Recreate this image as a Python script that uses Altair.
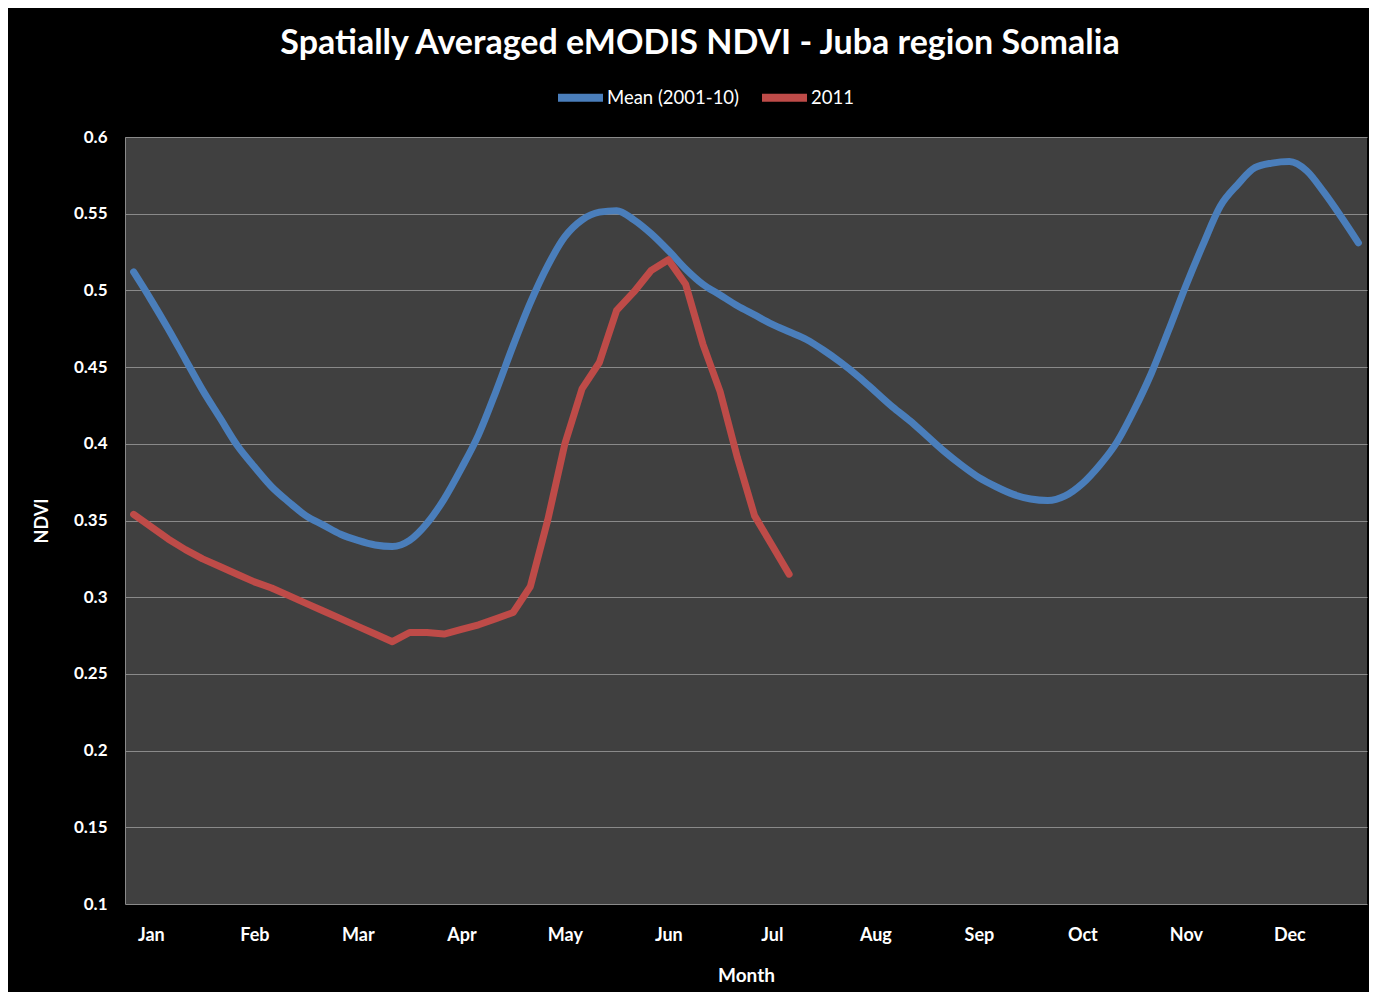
import altair as alt
import pandas as pd

# ---- data ----
months = ["Jan", "Feb", "Mar", "Apr", "May", "Jun",
          "Jul", "Aug", "Sep", "Oct", "Nov", "Dec"]
month_label_pos = [1, 7, 13, 19, 25, 31, 37, 43, 49, 55, 61, 67]  # pentad index where each month label sits
y_ticks = [0.1, 0.15, 0.2, 0.25, 0.3, 0.35, 0.4, 0.45, 0.5, 0.55, 0.6]

series_names = ["Mean (2001-10)", "2011"]
series_colors = ["#4a7ebb", "#be4b48"]

mean_ndvi = [
    0.512, 0.494, 0.475, 0.455, 0.435, 0.417, 0.399, 0.385, 0.372, 0.362,
    0.353, 0.347, 0.341, 0.337, 0.334, 0.333, 0.337, 0.348, 0.364, 0.384,
    0.406, 0.434, 0.464, 0.492, 0.516, 0.535, 0.546, 0.551, 0.552, 0.546,
    0.537, 0.526, 0.514, 0.504, 0.497, 0.490, 0.484, 0.478, 0.473, 0.468,
    0.461, 0.453, 0.444, 0.434, 0.424, 0.415, 0.405, 0.395, 0.386, 0.378,
    0.372, 0.367, 0.364, 0.363, 0.366, 0.374, 0.386, 0.401, 0.422, 0.446,
    0.474, 0.503, 0.530, 0.555, 0.569, 0.580, 0.583, 0.584, 0.578, 0.564,
    0.548, 0.531,
]
ndvi_2011 = [
    0.354, 0.346, 0.338, 0.331, 0.325, 0.320, 0.315, 0.310, 0.306, 0.301,
    0.296, 0.291, 0.286, 0.281, 0.276, 0.271, 0.277, 0.277, 0.276, 0.279,
    0.282, 0.286, 0.290, 0.307, 0.350, 0.400, 0.436, 0.453, 0.487, 0.499,
    0.513, 0.520, 0.504, 0.465, 0.434, 0.391, 0.353, 0.334, 0.315,
]

rows = []
for i, v in enumerate(mean_ndvi):
    rows.append({"idx": i, "ndvi": v, "series": series_names[0]})
for i, v in enumerate(ndvi_2011):
    rows.append({"idx": i, "ndvi": v, "series": series_names[1]})
df = pd.DataFrame(rows)

FONT = "Lato"
month_array = "[" + ",".join("'%s'" % m for m in months) + "]"
label_expr = month_array + "[round((datum.value - 1) / 6)]"

x = alt.X(
    "idx:Q",
    scale=alt.Scale(domain=[-0.5, len(mean_ndvi) - 0.5], nice=False, zero=False),
    axis=alt.Axis(
        values=month_label_pos, labelExpr=label_expr, grid=False, ticks=False,
        domain=False, title="Month", labelColor="white", labelFont=FONT,
        labelFontSize=18, labelFontWeight="bold", labelPadding=22,
        titleColor="white", titleFont=FONT, titleFontSize=19,
        titleFontWeight="bold", titlePadding=22,
    ),
)
y = alt.Y(
    "ndvi:Q",
    scale=alt.Scale(domain=[y_ticks[0], y_ticks[-1]], nice=False, zero=False),
    axis=alt.Axis(
        values=y_ticks, format=".2~f", grid=True, gridColor="#8a8a8a",
        gridWidth=1, ticks=False, domain=True, domainColor="#8a8a8a",
        title="NDVI", labelColor="white", labelFont=FONT, labelFontSize=17,
        labelFontWeight="bold", labelPadding=18, titleColor="white",
        titleFont=FONT, titleFontSize=18, titleFontWeight="bold",
        titlePadding=22,
    ),
)
color = alt.Color(
    "series:N",
    scale=alt.Scale(domain=series_names, range=series_colors),
    legend=alt.Legend(
        orient="none", legendX=429, legendY=-66, direction="horizontal",
        title=None, symbolType="stroke", symbolSize=2025,
        symbolStrokeWidth=8, labelColor="white", labelFont=FONT,
        labelFontSize=18.5, labelOffset=0, columnPadding=6,
    ),
)

base = alt.Chart(df).encode(x=x, y=y, color=color)
mean_line = base.transform_filter(alt.datum.series == series_names[0]).mark_line(
    interpolate="monotone", strokeWidth=7, strokeCap="round", strokeJoin="round"
)
line_2011 = base.transform_filter(alt.datum.series == series_names[1]).mark_line(
    strokeWidth=7, strokeCap="round", strokeJoin="round"
)

chart = (
    alt.layer(mean_line, line_2011)
    .properties(
        width=1242,
        height=767,
        autosize=alt.AutoSizeParams(type="none"),
        padding={"left": 117, "top": 129, "right": 2, "bottom": 88},
        background="black",
        title=alt.TitleParams(
            text="Spatially Averaged eMODIS NDVI - Juba region Somalia",
            font=FONT, fontSize=34, fontWeight="bold", color="white",
            anchor="middle", offset=10, dx=-46,
        ),
    )
    .configure_view(fill="#404040", stroke=None)
)

chart.save("out.html", embed_options={"renderer": "svg", "actions": False})
